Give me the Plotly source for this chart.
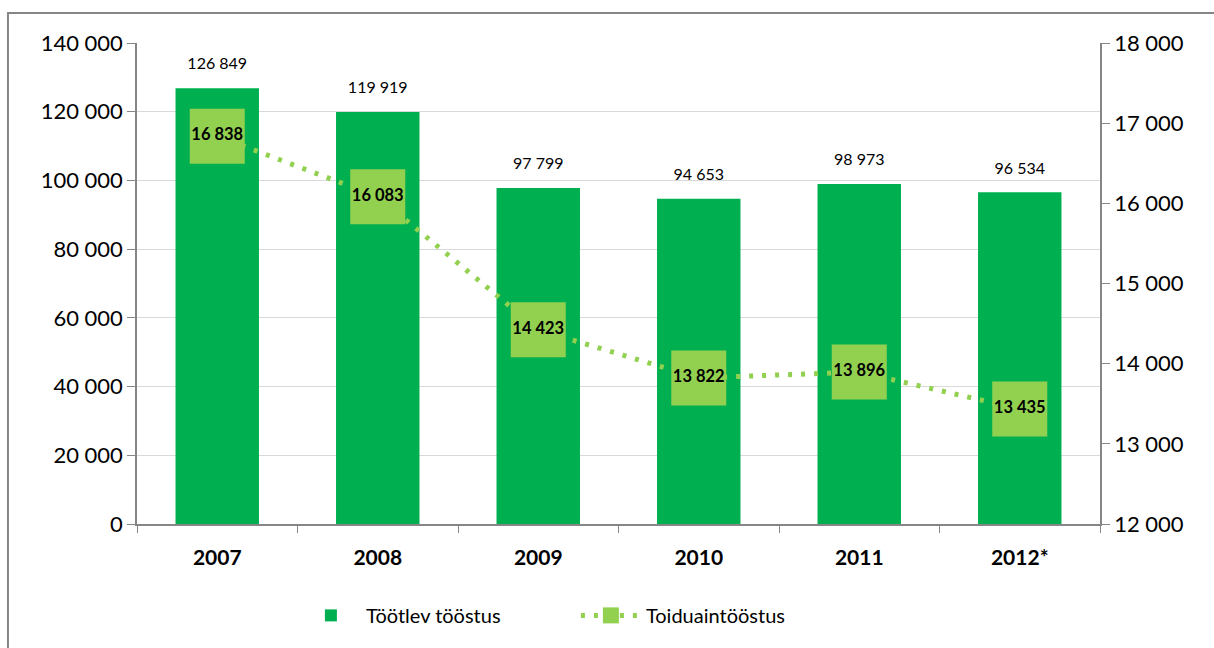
import plotly.graph_objects as go

years = ["2007", "2008", "2009", "2010", "2011", "2012*"]
tootlev = [126849, 119919, 97799, 94653, 98973, 96534]
toiduaine = [16838, 16083, 14423, 13822, 13896, 13435]

bar_green = "#00B050"
light_green = "#92D050"
font_name = "Lato, 'Open Sans', sans-serif"

fig = go.Figure()

fig.add_trace(go.Bar(
    x=years, y=tootlev, name="Töötlev tööstus",
    marker=dict(color=bar_green, line=dict(width=0)),
    width=0.52, yaxis="y",
))

# value labels above the bars
fig.add_trace(go.Scatter(
    x=years, y=tootlev, mode="markers+text", showlegend=False,
    marker=dict(size=22, color="rgba(0,0,0,0)"),
    text=[f"{v:,}".replace(",", " ") for v in tootlev],
    textposition="top center",
    textfont=dict(family=font_name, size=16, color="#000"),
    hoverinfo="skip", yaxis="y",
))

fig.add_trace(go.Scatter(
    x=years, y=toiduaine, name="Toiduaintööstus", yaxis="y2",
    mode="lines+markers+text",
    line=dict(color=light_green, width=5, dash="4px,9px"),
    marker=dict(symbol="square", size=55, color=light_green),
    text=[f"<b>{v:,}</b>".replace(",", " ") for v in toiduaine],
    textposition="middle center",
    textfont=dict(family=font_name, size=16.5, color="#000"),
))

fig.update_layout(
    width=1214, height=648,
    margin=dict(l=137, r=114, t=43, b=124),
    paper_bgcolor="white", plot_bgcolor="white",
    separators=", ",
    font=dict(family=font_name, size=20, color="#000"),
    bargap=0.48,
    legend=dict(orientation="h", x=0.165, xanchor="left", y=-0.19, yanchor="middle",
                font=dict(size=20), itemwidth=60, entrywidth=205,
                traceorder="normal"),
    xaxis=dict(
        type="category", range=[-0.5, 5.5],
        showline=True, linecolor="#868686", linewidth=1.5,
        ticks="outside", tickson="boundaries", ticklen=7, tickcolor="#868686",
        tickfont=dict(size=21), tickprefix="<b>", ticksuffix="</b>",
        ticklabelstandoff=14, showgrid=False,
    ),
    yaxis=dict(
        range=[0, 140000], dtick=20000, tickformat=",d",
        showline=True, linecolor="#868686", linewidth=1.5,
        ticks="outside", ticklen=8, tickcolor="#868686",
        gridcolor="#D9D9D9", gridwidth=1, zeroline=False,
        tickfont=dict(size=22),
    ),
    yaxis2=dict(
        range=[12000, 18000], dtick=1000, tickformat=",d",
        overlaying="y", side="right",
        showline=True, linecolor="#868686", linewidth=1.5,
        ticks="outside", ticklen=8, tickcolor="#868686",
        showgrid=False, zeroline=False,
        tickfont=dict(size=22),
    ),
    shapes=[dict(
        type="rect", xref="paper", yref="paper",
        x0=-0.134, x1=1.12, y0=-0.3, y1=1.0624,
        line=dict(color="#868686", width=2), layer="below",
    )],
)

fig.write_html("out.html", config={"displayModeBar": False},
               post_script="document.body.style.margin='0';")
